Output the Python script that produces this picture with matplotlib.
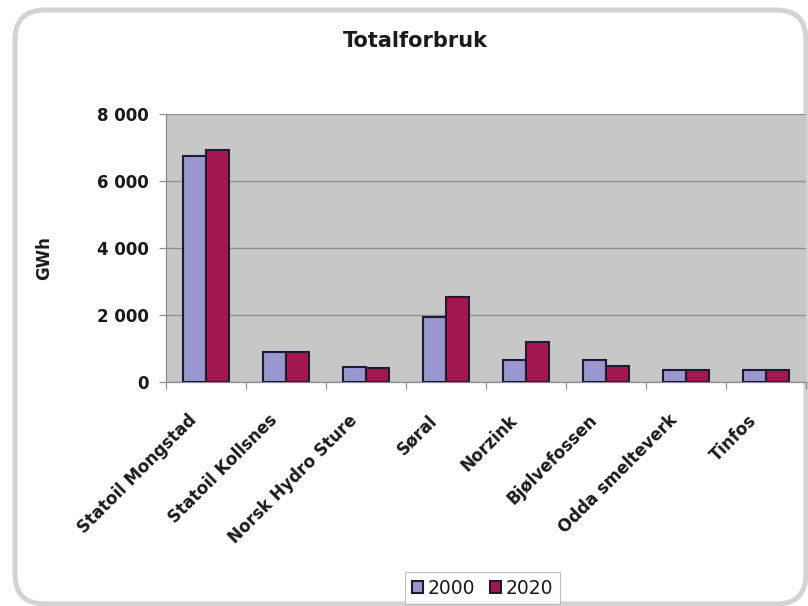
import matplotlib
matplotlib.use("Agg")
import matplotlib.pyplot as plt
from matplotlib.patches import FancyBboxPatch, Patch
from matplotlib.transforms import IdentityTransform, ScaledTranslation
import numpy as np

categories = ["Statoil Mongstad", "Statoil Kollsnes", "Norsk Hydro Sture", "Søral",
              "Norzink", "Bjølvefossen", "Odda smelteverk", "Tinfos"]
series_names = ["2000", "2020"]
values_2000 = [6750, 900, 450, 1950, 650, 650, 350, 350]
values_2020 = [6930, 900, 420, 2550, 1200, 480, 350, 350]
yticks = [0, 2000, 4000, 6000, 8000]
ytick_labels = ["0", "2 000", "4 000", "6 000", "8 000"]

c2000 = "#9a97cf"
c2020 = "#a3174f"
edge = "#1d1b35"
txt = "#1a1a1a"

plt.rcParams['font.family'] = ['DejaVu Sans']
fig = plt.figure(figsize=(8.08, 6.06), dpi=100)
fig.patch.set_facecolor("white")

# rounded outer frame (pixel coordinates)
W, H = 808, 606
frame = FancyBboxPatch((15, 2), 806 - 15, 596 - 2,
                       boxstyle="round,pad=0,rounding_size=30",
                       transform=IdentityTransform(), facecolor="white",
                       edgecolor="#d3d3d3", linewidth=3.6, zorder=-5)
fig.patches.append(frame)

ax = fig.add_axes([166 / W, 1 - 382 / H, (806 - 166) / W, (382 - 114) / H])
ax.set_facecolor("#c7c7c7")
x = np.arange(len(categories))
bw = 0.286
ax.bar(x - bw / 2, values_2000, bw, color=c2000, edgecolor=edge, linewidth=1.5, zorder=3)
ax.bar(x + bw / 2, values_2020, bw, color=c2020, edgecolor=edge, linewidth=1.5, zorder=3)

ax.set_xlim(-0.5, len(categories) - 0.5)
ax.set_ylim(0, 8000)
ax.set_yticks(yticks)
ax.set_yticklabels(ytick_labels, fontsize=12, fontweight="bold", color=txt)
ax.yaxis.grid(True, color="#8c8c8c", linewidth=0.9, zorder=1)
ax.set_axisbelow(True)

# category ticks at boundaries
ax.set_xticks(np.arange(len(categories) + 1) - 0.5)
ax.set_xticklabels([])
ax.set_xticks(x, minor=True)
ax.set_xticklabels(categories, minor=True, rotation=45, ha="right", va="top",
                   rotation_mode="anchor", fontsize=12, fontweight="bold", color=txt)
ax.tick_params(axis="x", which="minor", length=0, pad=21)
ax.tick_params(axis="x", which="major", length=5, color="#8c8c8c", width=0.9)
ax.tick_params(axis="y", length=5, color="#8c8c8c", width=0.9, pad=7.5)
offset = ScaledTranslation(-13 / 72, 0, fig.dpi_scale_trans)
for lab in ax.xaxis.get_minorticklabels():
    lab.set_transform(lab.get_transform() + offset)

for s in ["top", "right"]:
    ax.spines[s].set_visible(False)
for s in ["left", "bottom"]:
    ax.spines[s].set_color("#8c8c8c")
    ax.spines[s].set_linewidth(0.9)

ax.set_ylabel("GWh", fontsize=12, fontweight="bold", color=txt)
ax.yaxis.set_label_coords(53 / W, 1 - 258 / H, transform=fig.transFigure)

fig.text(415 / W, 1 - 41 / H, "Totalforbruk", ha="center", va="center",
         fontsize=15, fontweight="bold", color=txt)

handles = [Patch(facecolor=c2000, edgecolor=edge, linewidth=1.5),
           Patch(facecolor=c2020, edgecolor=edge, linewidth=1.5)]
leg = fig.legend(handles, series_names, loc="upper left",
                 bbox_to_anchor=(405 / W, 1 - 572 / H), ncol=2,
                 fontsize=13.5, frameon=True, fancybox=False,
                 handlelength=0.6, handleheight=0.6, handletextpad=0.25,
                 columnspacing=0.8, borderpad=0.35, borderaxespad=0)
leg.get_frame().set_edgecolor("#b0b0b0")
leg.get_frame().set_linewidth(0.8)
for t in leg.get_texts():
    t.set_color(txt)

fig.savefig("out.png", dpi=100)
